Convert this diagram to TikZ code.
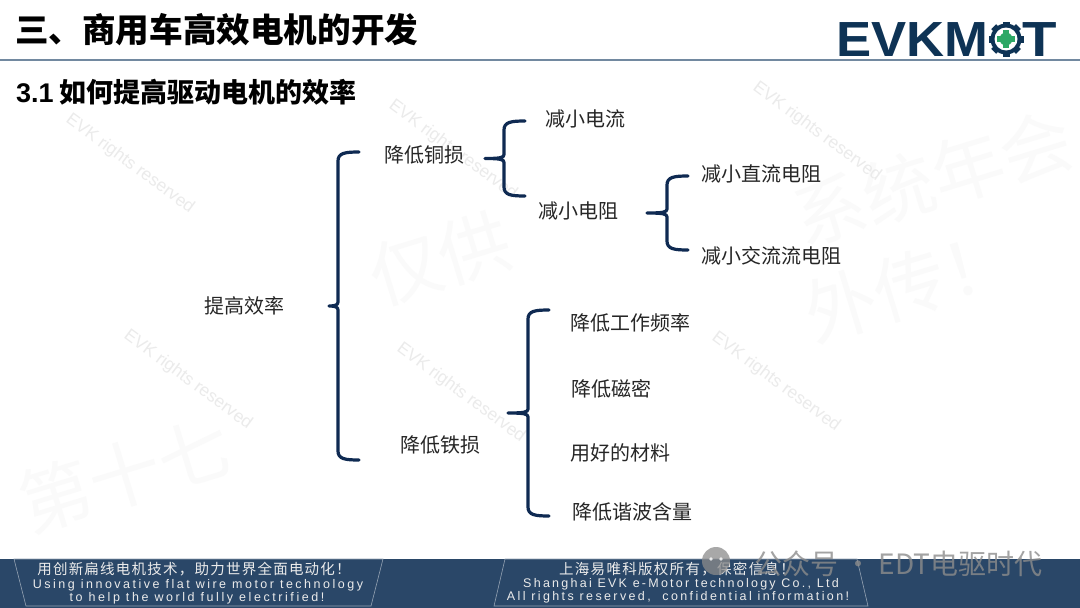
\documentclass[tikz,border=0pt]{standalone}
\usepackage{fontspec}
\setmainfont{Liberation Sans}
\newfontfamily\cjk{Noto Sans CJK SC}
\definecolor{navy}{HTML}{0F2A52}
\definecolor{barblue}{HTML}{2A4768}
\definecolor{rulegray}{HTML}{7289A0}
\definecolor{logoblue}{HTML}{0E3355}
\definecolor{logogreen}{HTML}{2EA866}
\tikzset{
  lbl/.style={font=\cjk\fontsize{20}{20}\selectfont,text=black!85,inner sep=0pt},
  wm/.style={font=\fontsize{17.4}{17.4}\selectfont,text=black!8,rotate=-36.5,inner sep=0pt},
  bigwm/.style={font=\cjk\fontsize{72}{72}\selectfont,text=black!2,rotate=17,inner sep=0pt},
  brc/.style={draw=navy,line width=3.2pt,line cap=round,line join=round},
  foot/.style={text=white!92!black,inner sep=0pt,align=center},
  footline/.style={draw=white!50!barblue,line width=.6pt},
}
\newcommand{\bracepath}[4]{%
  \draw[brc] (#1+21,#2) .. controls (#1+7,#2) and (#1,#2+1) .. (#1,#2+9) -- (#1,{(#2+#3)/2-4})
     .. controls (#1,{(#2+#3)/2-1}) and (#1-3,{(#2+#3)/2}) .. (#4,{(#2+#3)/2})
     .. controls (#1-3,{(#2+#3)/2}) and (#1,{(#2+#3)/2+1}) .. (#1,{(#2+#3)/2+4}) -- (#1,#3-9)
     .. controls (#1,#3-1) and (#1+7,#3) .. (#1+21,#3);}
\begin{document}
\begin{tikzpicture}[x=1pt,y=-1pt]
\useasboundingbox (0,0) rectangle (1080,608);
\fill[white] (0,0) rectangle (1080,608);
% faint large watermark
\node[bigwm] (bw1) at (440,258) {仅供};
\node[bigwm] (bw2) at (933,178) {系统年会};
\node[bigwm] (bw3) at (125,475) {第十七};
\node[bigwm] (bw4) at (910,285) {外传！};
% small watermarks
\node[wm] (w1) at (130,164) {EVK rights reserved};
\node[wm] (w2) at (453,150) {EVK rights reserved};
\node[wm] (w3) at (817,132) {EVK rights reserved};
\node[wm] (w4) at (188,380) {EVK rights reserved};
\node[wm] (w5) at (461,393) {EVK rights reserved};
\node[wm] (w6) at (776,382) {EVK rights reserved};
% header
\draw[rulegray,line width=2.8pt] (0,60) -- (1080,60);
\node[anchor=west,inner sep=0pt,font=\cjk\bfseries\fontsize{33.6}{33.6}\selectfont] (title) at (15,30) {三、商用车高效电机的开发};
\node[anchor=west,inner sep=0pt,font=\bfseries\fontsize{27}{27}\selectfont] (sub) at (16,92) {3.1\hspace{.22em}{\cjk\fontsize{27}{27}\selectfont 如何提高驱动电机的效率}};
% logo
\node[anchor=base west,inner sep=0pt,text=logoblue,font=\bfseries\fontsize{47}{47}\selectfont] (logoa) at (836,56) {\scalebox{1.12}[1.05]{EVKM}};
\node[anchor=base west,inner sep=0pt,text=logoblue,font=\bfseries\fontsize{47}{47}\selectfont] (logob) at (1022,56) {\scalebox{1.2}[1.05]{T}};
\fill[logoblue] (1006,39) circle (15.5);
\foreach \a in {0,45,...,315}{\fill[logoblue,rotate around={\a:(1006,39)}] (1002.5,21.5) rectangle (1009.5,26);}
\fill[white] (1006,39) circle (11.5);
\fill[logogreen] (1006,39) circle (6.5);
\foreach \a in {0,90,180,270}{\fill[logogreen,rotate around={\a:(1006,39)}] (1003,30) rectangle (1009,34);}
% braces
\bracepath{338}{152}{460}{329}
\bracepath{504}{121}{196}{485}
\bracepath{667}{176}{250}{647}
\bracepath{528}{310}{516}{508}
% labels
\node[lbl] (n0) at (244,306) {提高效率};
\node[lbl] (n1) at (424,155) {降低铜损};
\node[lbl] (n2) at (440,445) {降低铁损};
\node[lbl] (n3) at (585,119) {减小电流};
\node[lbl] (n4) at (578,211) {减小电阻};
\node[lbl] (n5) at (761,174) {减小直流电阻};
\node[lbl] (n6) at (771,256) {减小交流流电阻};
\node[lbl] (n7) at (630,323) {降低工作频率};
\node[lbl] (n8) at (611,389) {降低磁密};
\node[lbl] (n9) at (620,453) {用好的材料};
\node[lbl] (n10) at (632,512) {降低谐波含量};
% footer
\fill[barblue] (0,559) rectangle (1080,608);
\draw[footline] (14,559) -- (26,606) -- (371,606) -- (383,559) -- cycle;
\draw[footline] (494,606) -- (505,559) -- (857,559) -- (868,606) -- cycle;
\node[foot,font=\cjk\fontsize{14.5}{14.5}\selectfont] (f1) at (194,569.5) {\addfontfeature{LetterSpace=8.5}用创新扁线电机技术，助力世界全面电动化！};
\node[foot,font=\fontsize{12.5}{12.5}\selectfont] (f2) at (198,585) {\addfontfeature{LetterSpace=20}Using innovative flat wire motor technology};
\node[foot,font=\fontsize{12.5}{12.5}\selectfont] (f3) at (197,598) {\addfontfeature{LetterSpace=20.5}to help the world fully electrified!};
\node[foot,font=\cjk\fontsize{14.5}{14.5}\selectfont] (f4) at (677,569) {\addfontfeature{LetterSpace=9}上海易唯科版权所有，保密信息！};
\node[foot,font=\fontsize{12.5}{12.5}\selectfont] (f5) at (681,584) {\addfontfeature{LetterSpace=18}Shanghai EVK e-Motor technology Co., Ltd};
\node[foot,font=\fontsize{12.5}{12.5}\selectfont] (f6) at (678,597) {\addfontfeature{LetterSpace=19}All rights reserved,\ \ confidential information!};
% wechat mark overlay
\fill[black!45,opacity=.75] (716,561) circle (14);
\fill[white,opacity=.8] (711,559) circle (1.8) (721,559) circle (1.8);
\node[inner sep=0pt,anchor=west,text=black!45,opacity=.8,font=\cjk\fontsize{28}{28}\selectfont] (wx) at (754,564) {公众号 · EDT电驱时代};
\end{tikzpicture}
\end{document}
